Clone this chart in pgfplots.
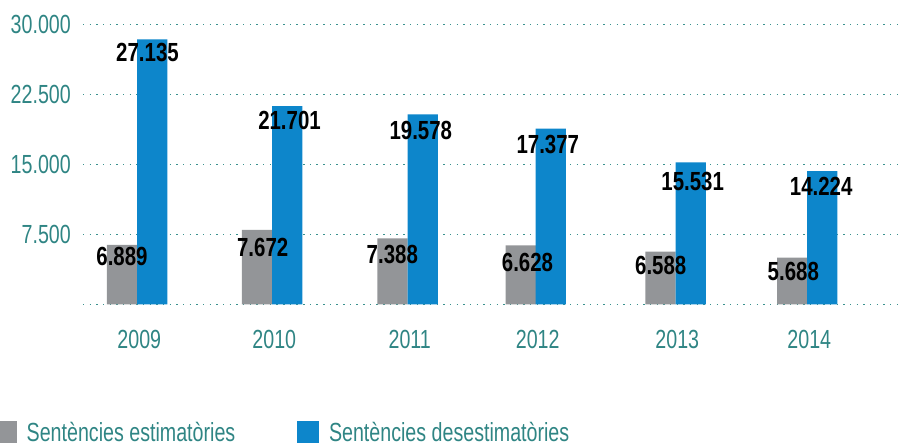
\documentclass[border=0pt]{standalone}
\usepackage{fontspec}
\setmainfont{Liberation Sans}[FakeStretch=0.75]
\newfontfamily\lblfamily{Liberation Sans}[FakeStretch=0.78]
\usepackage{pgfplots}
\pgfplotsset{compat=1.18}
\definecolor{tealtxt}{HTML}{2F8584}
\definecolor{gridc}{HTML}{3A918E}
\definecolor{greybar}{HTML}{939598}
\definecolor{bluebar}{HTML}{0D86CB}
\newcommand{\tickfont}{\fontsize{26.2}{30}\selectfont}
\newcommand{\lblfont}{\lblfamily\bfseries\fontsize{26.2}{30}\selectfont}
\begin{document}
\begin{tikzpicture}
\useasboundingbox (0pt,0pt) rectangle (899pt,-446pt);
\begin{axis}[
  at={(83pt,-304.3pt)}, anchor=south west,
  scale only axis, width=816pt, height=280pt,
  xmin=83, xmax=899, ymin=0, ymax=30000,
  clip=false,
  scaled y ticks=false, scaled x ticks=false,
  axis line style={draw=none},
  tick style={draw=none},
  major tick length=0pt,
  ymajorgrids,
  grid style={gridc, line width=1.4pt, dash pattern=on 1.4pt off 5.27pt},
  ytick={0,7500,15000,22500,30000},
  yticklabels={,7.500,15.000,22.500,30.000},
  xtick={137.3,272.3,407.7,535.7,675.3,807.3},
  xticklabels={2009,2010,2011,2012,2013,2014},
  yticklabel style={font=\tickfont, text=tealtxt, anchor=east, inner sep=0pt, xshift=-12pt},
  xticklabel style={font=\tickfont, text=tealtxt, anchor=north, inner sep=0pt, yshift=-25.5pt, xshift=2pt},
  legend style={at={(axis cs:-5,-14900)}, anchor=south west, draw=none, fill=none,
    inner sep=0pt, outer sep=0pt, font=\tickfont, text=tealtxt,
    nodes={inner sep=0pt},
    /tikz/every odd column/.append style={column sep=10pt},
    /tikz/every even column/.append style={column sep=62pt}},
  legend columns=2,
  legend cell align=left,
  legend image code/.code={\fill[#1,draw=none] (0pt,-9.6pt) rectangle (21.7pt,12.2pt);},
]
\addplot[ybar, bar width=30.3, bar shift=0pt, fill=greybar, draw=none]
  coordinates {(122,6354) (257,7961) (392.5,7071) (520.7,6321) (660.5,5636) (792.3,4993)};
\addlegendentry{Sentències estimatòries}
\addplot[ybar, bar width=30.3, bar shift=0pt, fill=bluebar, draw=none]
  coordinates {(152.3,28393) (287.3,21246) (422.7,20357) (550.7,18814) (690.7,15214) (822.3,14282)};
\addlegendentry{Sentències desestimatòries}
\addplot[forget plot, draw=none, mark=none, nodes near coords, point meta=explicit symbolic,
  nodes near coords style={anchor=center, inner sep=0pt, font=\lblfont, text=black}]
  coordinates {
   (147.5,26979) [27.135]
   (289.5,19661) [21.701]
   (420.8,18621) [19.578]
   (547.8,17154) [17.377]
   (692.7,13179) [15.531]
   (821.2,12621) [14.224]
   (122,5089) [6.889]
   (262.7,6118) [7.672]
   (392.3,5304) [7.388]
   (527.5,4511) [6.628]
   (660.7,4179) [6.588]
   (793.3,3546) [5.688]
  };
\end{axis}
\end{tikzpicture}
\end{document}
